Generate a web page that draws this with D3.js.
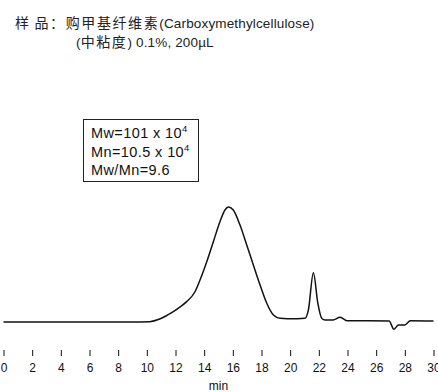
<!DOCTYPE html>
<html>
<head>
<meta charset="utf-8">
<script src="https://cdn.jsdelivr.net/npm/d3@7"></script>
<style>
  html, body { margin: 0; padding: 0; background: #fff; }
  svg { display: block; font-family: "Liberation Sans", Arial, "Noto Sans CJK SC", sans-serif; }
</style>
</head>
<body>
<div id="chart"></div>
<script>
// Chromatogram: retention time (min) and detector response (peak = 100)
const times = [0, 9.0, 10.2, 10.9, 11.4, 11.85, 12.3, 12.78, 13.36, 13.71, 14.18, 14.64, 15.1, 15.45, 15.69,
  16.03, 16.5, 16.97, 17.43, 17.9, 18.36, 18.83, 19.3, 19.8, 20.5, 21.03, 21.27, 21.62, 21.93, 22.2, 22.44,
  23.0, 23.48, 24.0, 26.9, 27.24, 27.55, 28.0, 28.39, 30];
const response = [0, 0, 0.3, 2.6, 5.7, 9, 13, 17.7, 26.3, 36.5, 52.4, 69.8, 87.2, 97.4, 100,
  97.4, 84.3, 67, 49.6, 32.2, 16.5, 6.1, 3.2, 2.9, 2.9, 3.2, 10.4, 42.9, 16.3, 3.2, 1.7,
  1.7, 4.1, 1.1, 0.9, -6.3, -2.6, -2.6, 1.1, 0.9];
const xTicks = d3.range(0, 31, 2);

const titleLines = ["样 品：购甲基纤维素(Carboxymethylcellulose)", "(中粘度) 0.1%, 200µL"];
const boxLines = [["Mw=101 x 10", "4"], ["Mn=10.5 x 10", "4"], ["Mw/Mn=9.6", ""]];

const width = 438, height = 392;

const svg = d3.select("#chart").append("svg")
  .attr("width", width)
  .attr("height", height)
  .attr("viewBox", [0, 0, width, height]);

const x = d3.scaleLinear().domain([0, 30]).range([3.5, 433.5]);
const y = d3.scaleLinear().domain([0, 100]).range([322, 207]);

// title: CJK runs a bit larger and spaced out, like the original
const cjk = /([\u3000-\u9fff\uff00-\uffef]+)/;
const title = svg.append("g")
  .selectAll("text")
  .data(titleLines)
  .join("text")
  .attr("x", (d, i) => i === 0 ? 15 : 76)
  .attr("y", (d, i) => 28 + i * 18.5)
  .attr("fill", "#222")
  .style("white-space", "pre");
title.selectAll("tspan")
  .data(d => d.split(cjk).filter(s => s.length))
  .join("tspan")
  .attr("font-size", s => cjk.test(s) ? 14 : 13.5)
  .attr("letter-spacing", s => cjk.test(s) ? 1.6 : 0.15)
  .text(s => s);

// result box
const box = svg.append("g");
box.append("rect")
  .attr("x", 83.5).attr("y", 119.5)
  .attr("width", 115).attr("height", 62)
  .attr("fill", "none").attr("stroke", "#222").attr("stroke-width", 1);
const lines = box.selectAll("text")
  .data(boxLines)
  .join("text")
  .attr("x", 91)
  .attr("y", (d, i) => 138 + i * 18.5)
  .attr("font-size", 14.5)
  .attr("letter-spacing", 0.4)
  .attr("fill", "#111");
lines.append("tspan").text(d => d[0]);
lines.append("tspan")
  .attr("dy", -6)
  .attr("font-size", 9.5)
  .text(d => d[1]);

// trace
svg.append("path")
  .datum(times.map((t, i) => [t, response[i]]))
  .attr("fill", "none")
  .attr("stroke", "#111")
  .attr("stroke-width", 1.5)
  .attr("stroke-linejoin", "round")
  .attr("d", d3.line().x(d => x(d[0])).y(d => y(d[1])).curve(d3.curveMonotoneX));

// axis (ticks only)
const axis = svg.append("g")
  .attr("transform", "translate(0,350)")
  .call(d3.axisBottom(x).tickValues(xTicks).tickSize(6).tickPadding(7));
axis.select(".domain").remove();
axis.selectAll("text").attr("font-size", 12).attr("font-family", null).attr("fill", "#111");
axis.selectAll("line").attr("stroke", "#111");

svg.append("text")
  .attr("x", x(15))
  .attr("y", 390)
  .attr("text-anchor", "middle")
  .attr("font-size", 12)
  .attr("fill", "#111")
  .text("min");
</script>
</body>
</html>
